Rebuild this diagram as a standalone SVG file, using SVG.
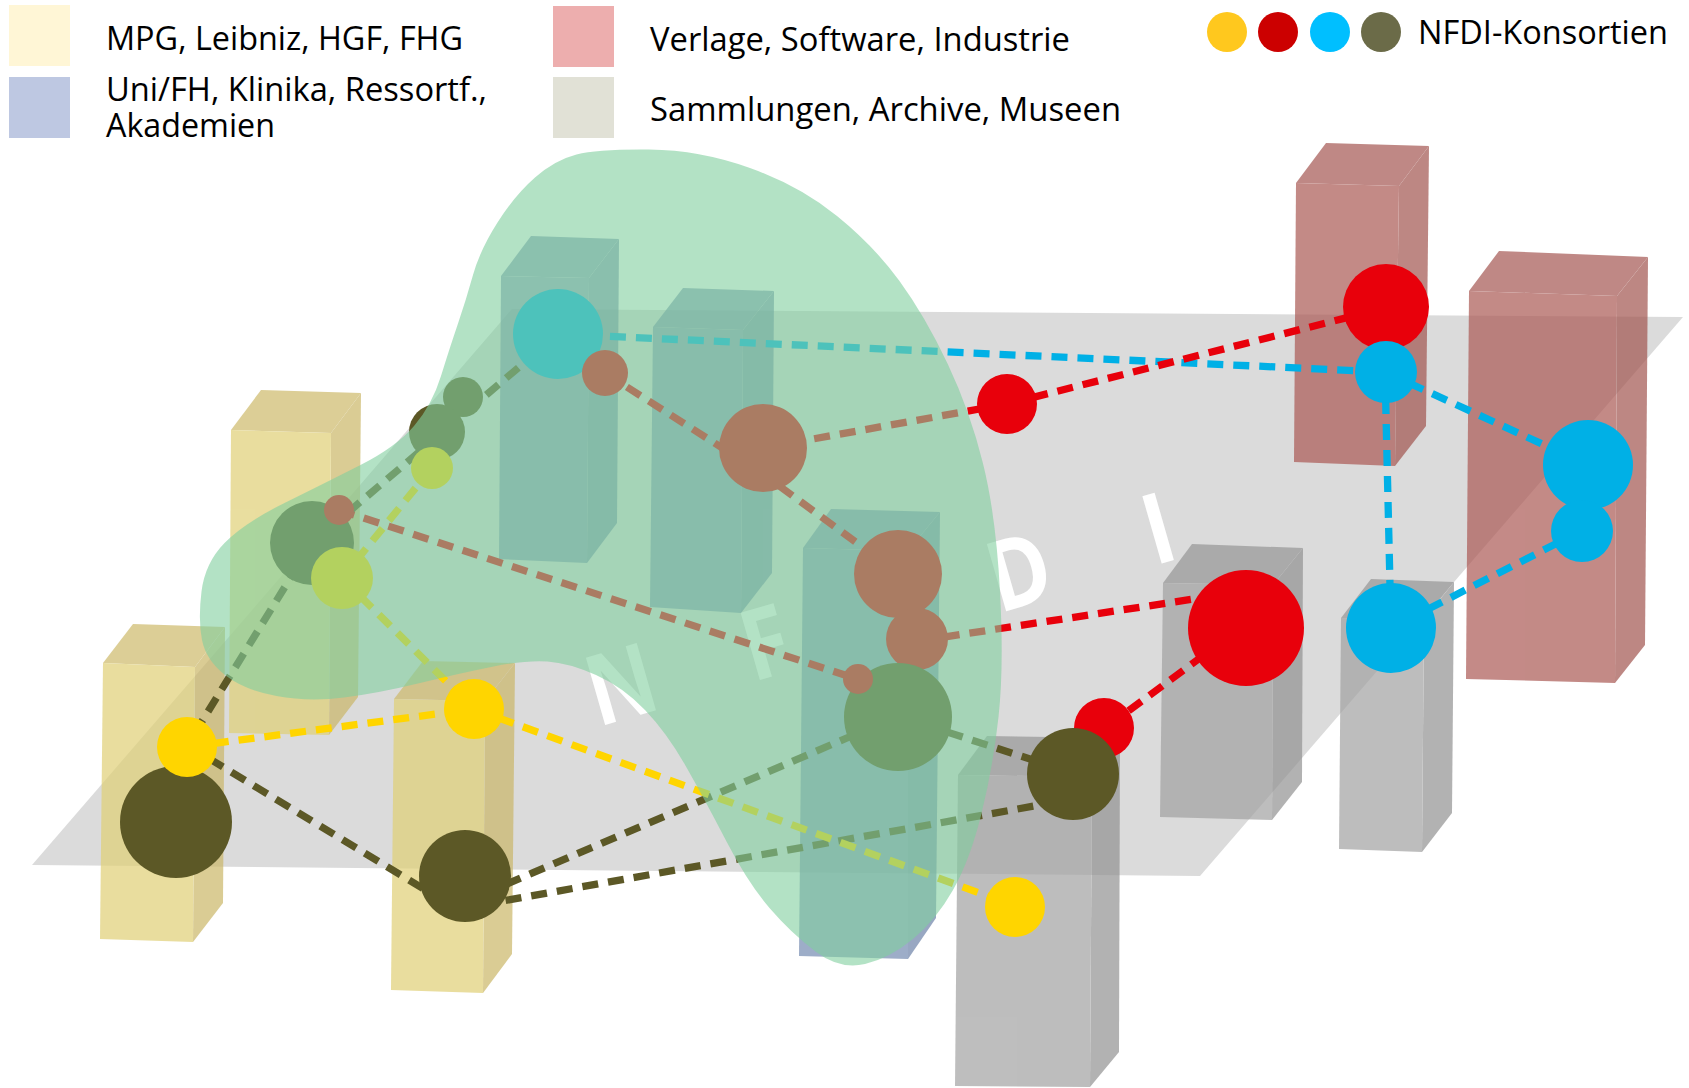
<svg xmlns="http://www.w3.org/2000/svg" width="1689" height="1088" viewBox="0 0 1689 1088">
<style>
.leg{font-family:"Open Sans","Liberation Sans",sans-serif;font-size:32px;fill:#000}
.nfdi{font-family:"Open Sans","Liberation Sans",sans-serif;font-size:98px;font-weight:700;fill:#fff;text-anchor:middle}
.pl{opacity:0.7}
.yf{fill:#E0D076}.ys{fill:#CBB768}.yt{fill:#CEBA6A}
.bf{fill:#758BB1}.bs{fill:#6D83A9}.bt{fill:#7389AF}
.rf{fill:#AB5954}.rs{fill:#A2554F}.rt{fill:#A55752}
.gf{fill:#A2A2A2}.gs{fill:#929292}.gt{fill:#969696}
.c{fill:none;stroke-width:7.3;stroke-dasharray:16 10}
.cb{stroke:#00B0E6}.cr{stroke:#E8000B}.co{stroke:#5C5826}.cy{stroke:#FFD500}
.nb{fill:#00B0E6}.nr{fill:#E8000B}.no{fill:#5C5826}.ny{fill:#FFD500}
</style>
<rect width="1689" height="1088" fill="#fff"/>
<g id="legend">
<rect x="9" y="5" width="61" height="61" fill="#FFF6D6"/>
<rect x="9" y="77" width="61" height="61" fill="#BEC8E2"/>
<rect x="553" y="6" width="61" height="61" fill="#EDAEAE"/>
<rect x="553" y="77" width="61" height="61" fill="#E1E1D6"/>
<text class="leg" x="106" y="50" textLength="357" lengthAdjust="spacingAndGlyphs">MPG, Leibniz, HGF, FHG</text>
<text class="leg" x="106" y="101" textLength="381" lengthAdjust="spacingAndGlyphs">Uni/FH, Klinika, Ressortf.,</text>
<text class="leg" x="106" y="137" textLength="169" lengthAdjust="spacingAndGlyphs">Akademien</text>
<text class="leg" x="650" y="51" textLength="420" lengthAdjust="spacingAndGlyphs">Verlage, Software, Industrie</text>
<text class="leg" x="650" y="121" textLength="471" lengthAdjust="spacingAndGlyphs">Sammlungen, Archive, Museen</text>
<circle cx="1227" cy="32" r="20" fill="#FFC81E"/>
<circle cx="1278" cy="32" r="20" fill="#CC0000"/>
<circle cx="1330" cy="32" r="20" fill="#00BFFF"/>
<circle cx="1381" cy="32" r="20" fill="#6B6B48"/>
<text class="leg" x="1418" y="44" textLength="250" lengthAdjust="spacingAndGlyphs">NFDI-Konsortien</text>
</g>
<g id="plane">
<polygon points="512,309 1683,317 1200,876 32,865" fill="#DBDBDB"/>
<text class="nfdi" transform="translate(621,684) rotate(-16) scale(0.85,1)" y="35">N</text>
<text class="nfdi" transform="translate(765,642) rotate(-16) scale(0.85,1)" y="35">F</text>
<text class="nfdi" transform="translate(1019,571) rotate(-16) scale(0.85,1)" y="35">D</text>
<text class="nfdi" transform="translate(1158,528) rotate(-16) scale(0.85,1)" y="35">I</text>
</g>
<g id="pillar-r1" class="pl"><polygon class="rt" points="1296,183 1326,143 1429,146 1399,186"/><polygon class="rs" points="1399,186 1429,146 1426,426 1395,466"/><polygon class="rf" points="1296,183 1399,186 1395,466 1294,462"/></g>
<g id="pillar-b1" class="pl"><polygon class="bt" points="501,276 531,236 619,239 589,278"/><polygon class="bs" points="589,278 619,239 617,523 587,563"/><polygon class="bf" points="501,276 589,278 587,563 499,559"/></g>
<g id="pillar-r2" class="pl"><polygon class="rt" points="1469,291 1499,251 1648,257 1617,296"/><polygon class="rs" points="1617,296 1648,257 1645,645 1615,683"/><polygon class="rf" points="1469,291 1617,296 1615,683 1466,679"/></g>
<g id="pillar-b2" class="pl"><polygon class="bt" points="653,327 683,288 774,291 743,330"/><polygon class="bs" points="743,330 774,291 772,573 741,613"/><polygon class="bf" points="653,327 743,330 741,613 650,607"/></g>
<g id="pillar-y1" class="pl"><polygon class="yt" points="231,430 261,390 361,393 331,433"/><polygon class="ys" points="331,433 361,393 358,697 329,735"/><polygon class="yf" points="231,430 331,433 329,735 229,733"/></g>
<g id="pillar-b3" class="pl"><polygon class="bt" points="803,548 831,509 940,512 908,551"/><polygon class="bs" points="908,551 940,512 936,918 908,959"/><polygon class="bf" points="803,548 908,551 908,959 799,956"/></g>
<g id="pillar-g1" class="pl"><polygon class="gt" points="1163,583 1192,544 1303,548 1273,585"/><polygon class="gs" points="1273,585 1303,548 1302,782 1272,820"/><polygon class="gf" points="1163,583 1273,585 1272,820 1160,817"/></g>
<g id="pillar-g2" class="pl"><polygon class="gt" points="1341,618 1371,579 1454,582 1424,619"/><polygon class="gs" points="1424,619 1454,582 1452,813 1422,852"/><polygon class="gf" points="1341,618 1424,619 1422,852 1339,849"/></g>
<g id="pillar-y2" class="pl"><polygon class="yt" points="103,663 133,624 225,627 195,667"/><polygon class="ys" points="195,667 225,627 223,903 193,942"/><polygon class="yf" points="103,663 195,667 193,942 100,939"/></g>
<g id="pillar-y3" class="pl"><polygon class="yt" points="394,699 423,661 515,663 485,701"/><polygon class="ys" points="485,701 515,663 512,954 483,993"/><polygon class="yf" points="394,699 485,701 483,993 391,990"/></g>
<g id="pillar-g3" class="pl"><polygon class="gt" points="958,775 987,736 1120,738 1092,777"/><polygon class="gs" points="1092,777 1120,738 1119,1052 1090,1087"/><polygon class="gf" points="958,775 1092,777 1090,1087 955,1086"/></g>
<g id="connectors">
<path class="c cb" d="M558,334 L1385,372"/>
<path class="c cb" d="M1385,372 L1588,465"/>
<path class="c cb" d="M1385,372 L1391,628"/>
<path class="c cb" d="M1581,531 L1391,628"/>
<path class="c cr" d="M605,373 L763,474 L898,573"/>
<path class="c cr" d="M763,448 L1007,404"/>
<path class="c cr" d="M1007,404 L1385,308"/>
<path class="c cr" d="M918,641 L1240,592"/>
<path class="c cr" d="M1246,624 L1104,729"/>
<path class="c cr" d="M339,510 L857,679"/>
<path class="c co" d="M558,334 L312,543"/>
<path class="c co" d="M312,543 L180,757"/>
<path class="c co" d="M187,745 L455,908"/>
<path class="c co" d="M458,905 L898,716"/>
<path class="c co" d="M480,905 L1040,805"/>
<path class="c co" d="M898,716 L1073,773"/>
<path class="c cy" d="M187,747 L474,709"/>
<path class="c cy" d="M432,468 L342,578"/>
<path class="c cy" d="M342,578 L474,709"/>
<path class="c cy" d="M474,709 L1015,906"/>
</g>
<g id="node-olive-huge"><circle class="no" cx="176" cy="822" r="56"/></g>
<g id="node-yellow-left"><circle class="ny" cx="187" cy="747" r="30"/></g>
<g id="node-olive-middle"><circle class="no" cx="465" cy="876" r="46"/></g>
<g id="node-yellow-mid"><circle class="ny" cx="474" cy="709" r="30"/></g>
<g id="node-olive-a"><circle class="no" cx="312" cy="543" r="42"/></g>
<g id="node-red-a"><circle class="nr" cx="339" cy="510" r="15"/></g>
<g id="node-yellow-a"><circle class="ny" cx="342" cy="578" r="31"/></g>
<g id="node-olive-b"><circle class="no" cx="463" cy="397" r="20"/></g>
<g id="node-olive-c"><circle class="no" cx="437" cy="432" r="28"/></g>
<g id="node-yellow-b"><circle class="ny" cx="432" cy="468" r="21"/></g>
<g id="node-blue-a"><circle class="nb" cx="558" cy="334" r="45"/></g>
<g id="node-red-b"><circle class="nr" cx="605" cy="373" r="23"/></g>
<g id="node-red-c"><circle class="nr" cx="763" cy="448" r="44"/></g>
<g id="node-red-d"><circle class="nr" cx="898" cy="574" r="44"/></g>
<g id="node-red-e"><circle class="nr" cx="917" cy="639" r="31"/></g>
<g id="node-olive-d"><circle class="no" cx="898" cy="717" r="54"/></g>
<g id="node-red-f"><circle class="nr" cx="858" cy="679" r="15"/></g>
<g id="node-red-g"><circle class="nr" cx="1007" cy="404" r="30"/></g>
<g id="node-red-h"><circle class="nr" cx="1386" cy="307" r="43"/></g>
<g id="node-blue-b"><circle class="nb" cx="1386" cy="372" r="31"/></g>
<g id="node-blue-c"><circle class="nb" cx="1588" cy="465" r="45"/></g>
<g id="node-blue-d"><circle class="nb" cx="1582" cy="531" r="31"/></g>
<g id="node-red-i"><circle class="nr" cx="1246" cy="628" r="58"/></g>
<g id="node-blue-e"><circle class="nb" cx="1391" cy="628" r="45"/></g>
<g id="node-red-j"><circle class="nr" cx="1104" cy="728" r="30"/></g>
<g id="node-olive-e"><circle class="no" cx="1073" cy="774" r="46"/></g>
<g id="node-yellow-c"><circle class="ny" cx="1015" cy="907" r="30"/></g>
<g id="blob">
<path fill="#80CF9E" opacity="0.6" d="M576.5,154.5 Q598,149 649,149.5 Q700,150 750,168 Q800,186 837,216 Q874,246 899.5,281 Q925,316 947.5,363.5 Q970,411 983,463.5 Q996,516 1000,591.5 Q1004,667 998.5,717 Q993,767 981.5,813.5 Q970,860 953,890 Q936,920 913,939 Q890,958 865,964 Q840,970 815.5,951.5 Q791,933 769.5,908 Q748,883 726.5,841.5 Q705,800 686,766.5 Q667,733 645,710 Q623,687 596,675 Q569,663 547.5,661.5 Q526,660 493.5,666.5 Q461,673 420,683 Q379,693 344,697.5 Q309,702 276.5,696 Q244,690 225,675 Q206,660 202,640 Q198,620 201.5,591.5 Q205,563 224.5,543 Q244,523 284.5,503 Q325,483 360.5,465 Q396,447 414,426 Q432,405 441,376 Q450,347 458,323.5 Q466,300 473,275 Q480,250 497.5,222.5 Q515,195 535,177.5 Q555,160 576.5,154.5 Z"/>
</g>
</svg>
